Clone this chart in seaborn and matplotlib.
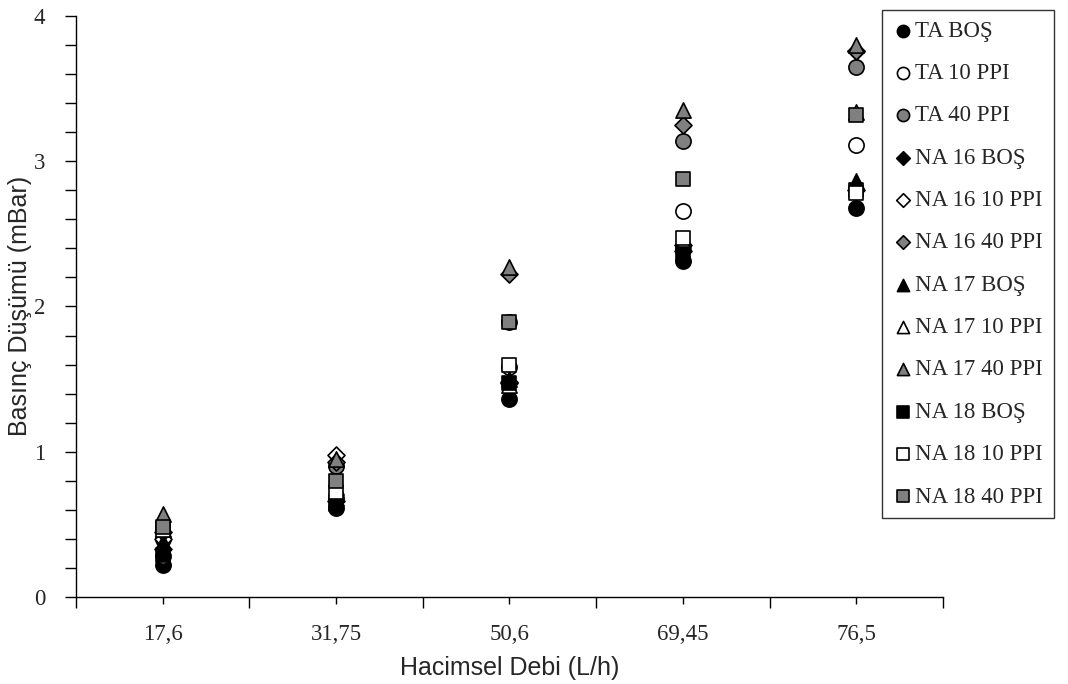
import pandas as pd
import matplotlib.pyplot as plt
import seaborn as sns
from matplotlib.ticker import FixedLocator, MultipleLocator

# === Data ===
debi = ["17,6", "31,75", "50,6", "69,45", "76,5"]

ta_bos = [0.22, 0.61, 1.36, 2.31, 2.68]
ta_10 = [0.28, 0.68, 1.58, 2.66, 3.11]
ta_40 = [0.40, 0.90, 1.89, 3.14, 3.65]
na16_bos = [0.33, 0.66, 1.47, 2.38, 2.80]
na16_10 = [0.40, 0.98, 1.48, 2.42, 3.76]
na16_40 = [0.45, 0.93, 2.22, 3.25, 3.76]
na17_bos = [0.38, 0.68, 1.50, 2.46, 2.86]
na17_10 = [0.47, 0.76, 1.46, 2.44, 3.34]
na17_40 = [0.57, 0.95, 2.27, 3.35, 3.80]
na18_bos = [0.29, 0.64, 1.47, 2.36, 2.80]
na18_10 = [0.46, 0.72, 1.60, 2.47, 2.78]
na18_40 = [0.48, 0.80, 1.89, 2.88, 3.32]

series_names = ["TA BOŞ", "TA 10 PPI", "TA 40 PPI",
                "NA 16 BOŞ", "NA 16 10 PPI", "NA 16 40 PPI",
                "NA 17 BOŞ", "NA 17 10 PPI", "NA 17 40 PPI",
                "NA 18 BOŞ", "NA 18 10 PPI", "NA 18 40 PPI"]
series_vals = [ta_bos, ta_10, ta_40, na16_bos, na16_10, na16_40,
               na17_bos, na17_10, na17_40, na18_bos, na18_10, na18_40]

# === Styles ===
shapes = ["o", "o", "o", "D", "D", "D", "^", "^", "^", "s", "s", "s"]
fills = ["black", "white", "#808080"] * 4
sizes = {"o": 120, "D": 75, "^": 120, "s": 110}

df = pd.DataFrame({
    "Debi": debi * len(series_names),
    "Basinc": [v for vals in series_vals for v in vals],
    "Seri": [n for n in series_names for _ in debi],
})

sns.set_style("white")
plt.rcParams["font.family"] = ["Liberation Serif", "DejaVu Serif"]

fig = plt.figure(figsize=(10.68, 6.84), dpi=100)
ax = fig.add_axes([0.071, 0.127, 0.812, 0.850])

for name, mk, fc in zip(series_names, shapes, fills):
    sns.scatterplot(data=df[df["Seri"] == name], x="Debi", y="Basinc", ax=ax,
                    marker=mk, color=fc, edgecolor="black", linewidth=1.2,
                    s=sizes[mk], label=name, zorder=3)

# === Axes ===
ax.set_xlim(-0.5, 4.5)
ax.set_ylim(0, 4)
ax.yaxis.set_major_locator(MultipleLocator(1))
ax.yaxis.set_minor_locator(MultipleLocator(0.2))
ax.xaxis.set_minor_locator(FixedLocator([i - 0.5 for i in range(len(debi) + 1)]))
ax.tick_params(axis="both", which="both", direction="out", color="black",
               width=1, labelsize=16.5)
ax.tick_params(axis="x", which="major", length=5, pad=14)
ax.tick_params(axis="x", which="minor", length=8)
ax.tick_params(axis="y", which="both", length=8, pad=14)
ax.tick_params(left=True, bottom=True, which="both")
for side in ["top", "right"]:
    ax.spines[side].set_visible(False)
for side in ["left", "bottom"]:
    ax.spines[side].set_color("black")
    ax.spines[side].set_linewidth(1)

ax.set_xlabel("Hacimsel Debi (L/h)", family=["Liberation Sans"], fontsize=18, labelpad=8)
ax.set_ylabel("Basınç Düşümü (mBar)", family=["Liberation Sans"], fontsize=18)
ax.yaxis.set_label_coords(-0.05, 0.5)

# === Legend ===
handles, labels = ax.get_legend_handles_labels()
ax.get_legend().remove()
leg = fig.legend(handles, labels, loc="upper left", bbox_to_anchor=(0.826, 0.985),
                 borderaxespad=0, frameon=True, fancybox=False, fontsize=16.5,
                 labelspacing=0.93, handletextpad=0.1, handlelength=0.9,
                 borderpad=0.45, markerscale=0.8)
leg.get_frame().set_edgecolor("black")
leg.get_frame().set_linewidth(1)

plt.savefig("out.png", dpi=100)
